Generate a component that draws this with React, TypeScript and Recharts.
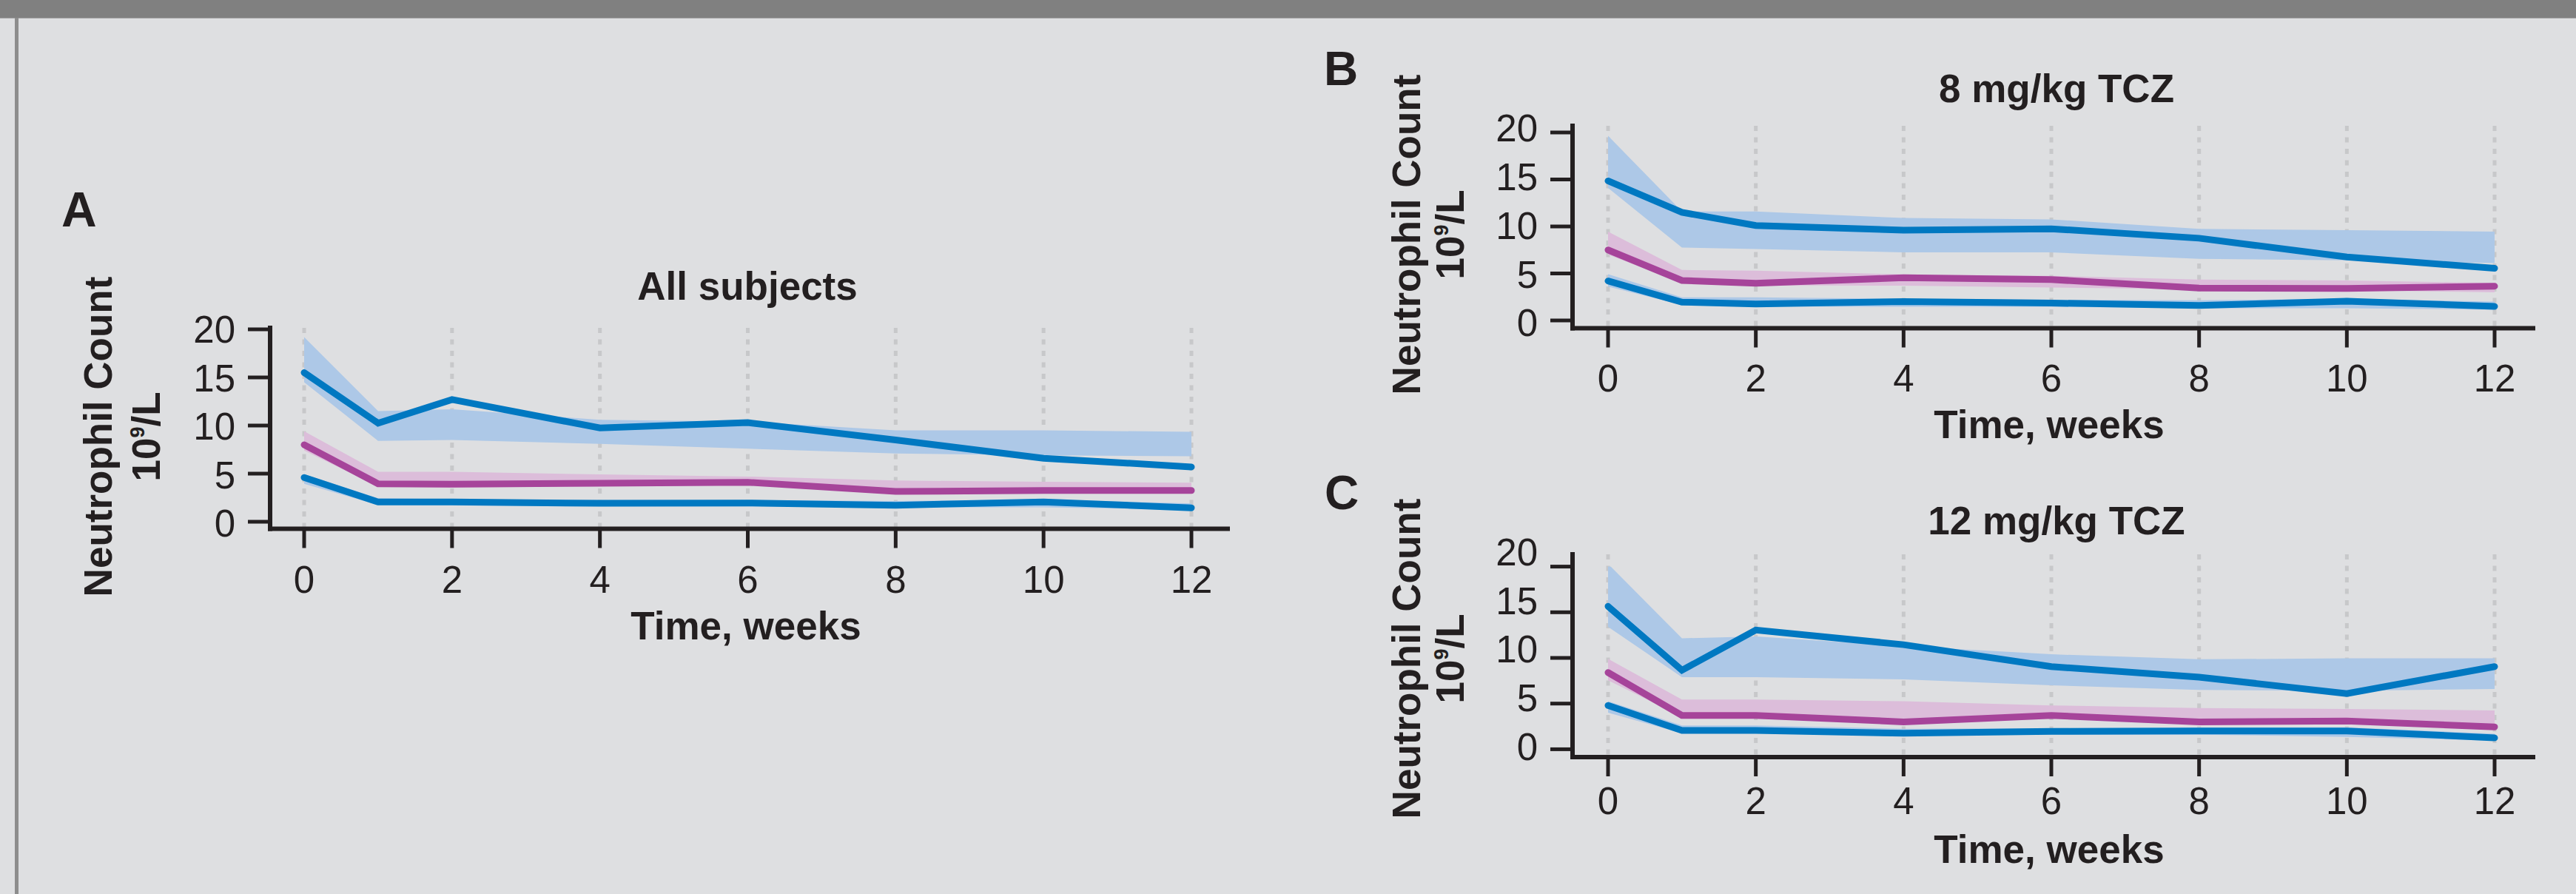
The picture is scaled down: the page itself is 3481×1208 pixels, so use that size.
import React from "react";
import { ComposedChart, Area, Line, XAxis, YAxis, CartesianGrid } from "recharts";

const weeks = [0, 1, 2, 4, 6, 8, 10, 12];
const xTicks = [0, 2, 4, 6, 8, 10, 12];
const yTicks = [0, 5, 10, 15, 20];

const panelLetters = ["A", "B", "C"];
const panelTitles = ["All subjects", "8 mg/kg TCZ", "12 mg/kg TCZ"];
const xLabel = "Time, weeks";
const yLabel = "Neutrophil Count";

// A: all subjects
const aUpper = [15.5, 10.25, 12.7, 9.75, 10.3, 8.5, 6.6, 5.7];
const aUpperLo = [14.5, 8.4, 8.5, 8.1, 7.6, 7.1, 6.9, 6.8];
const aUpperHi = [19.2, 11.5, 11.7, 10.6, 10.4, 9.5, 9.5, 9.35];
const aMid = [8.0, 3.95, 3.9, 4.0, 4.1, 3.15, 3.25, 3.25];
const aMidLo = [7.4, 3.67, 3.54, 3.7, 3.83, 3.03, 3.03, 3.03];
const aMidHi = [9.4, 5.2, 5.2, 4.92, 4.7, 4.28, 4.15, 4.05];
const aLow = [4.6, 2.05, 2.05, 1.92, 1.95, 1.72, 2.05, 1.45];
const aLowLo = [3.95, 1.75, 1.7, 1.6, 1.6, 1.5, 1.5, 1.28];
const aLowHi = [4.95, 2.44, 2.35, 2.25, 2.25, 2.15, 2.3, 1.9];

// B: 8 mg/kg
const bUpper = [14.85, 11.5, 10.1, 9.6, 9.75, 8.75, 6.75, 5.55];
const bUpperLo = [14.1, 7.75, 7.6, 7.25, 7.25, 6.55, 6.4, 6.1];
const bUpperHi = [19.65, 11.6, 11.6, 10.9, 10.75, 9.75, 9.6, 9.45];
const bMid = [7.5, 4.25, 3.95, 4.55, 4.35, 3.45, 3.4, 3.65];
const bMidLo = [7.0, 4.0, 3.75, 3.7, 3.5, 3.3, 3.2, 3.0];
const bMidHi = [9.45, 5.37, 5.3, 4.9, 4.75, 4.35, 4.25, 4.0];
const bLow = [4.2, 1.95, 1.75, 2.0, 1.85, 1.6, 2.05, 1.5];
const bLowLo = [3.6, 1.65, 1.5, 1.45, 1.45, 1.3, 1.3, 1.15];
const bLowHi = [4.92, 2.47, 2.47, 2.3, 2.2, 2.15, 2.3, 2.0];

// C: 12 mg/kg
const cUpper = [15.65, 8.65, 13.05, 11.45, 9.05, 7.9, 6.1, 9.05];
const cUpperLo = [13.4, 7.9, 7.9, 7.65, 7.0, 6.5, 6.4, 6.6];
const cUpperHi = [20.3, 12.15, 12.35, 11.3, 10.4, 9.85, 9.95, 9.95];
const cMid = [8.4, 3.7, 3.7, 3.0, 3.7, 3.0, 3.1, 2.45];
const cMidLo = [7.55, 3.55, 3.4, 2.9, 3.5, 2.9, 2.9, 2.3];
const cMidHi = [9.9, 5.45, 5.45, 5.25, 4.8, 4.5, 4.4, 4.25];
const cLow = [4.8, 2.05, 2.05, 1.75, 1.95, 2.0, 2.0, 1.25];
const cLowLo = [4.0, 1.75, 1.75, 1.55, 1.6, 1.6, 1.35, 0.95];
const cLowHi = [5.25, 2.6, 2.6, 2.25, 2.3, 2.4, 2.4, 1.7];

const INK = "#231f20";
const BLUE = "#0078c1";
const BLUE_BAND = "#adc8e7";
const PURPLE = "#a6449a";
const PINK_BAND = "#dcbdda";
const GRID = "#c7c8ca";
const BG = "#dedfe1";
const FONT = "'Liberation Sans', Arial, Helvetica, sans-serif";
const XH = 100;

const buildRows = (
  upper: number[], upperLo: number[], upperHi: number[],
  mid: number[], midLo: number[], midHi: number[],
  low: number[], lowLo: number[], lowHi: number[]
) =>
  weeks.map((week, i) => ({
    week,
    upper: upper[i],
    upperBand: [upperLo[i], upperHi[i]],
    mid: mid[i],
    midBand: [midLo[i], midHi[i]],
    low: low[i],
    lowBand: [lowLo[i], lowHi[i]],
  }));

const rowsA = buildRows(aUpper, aUpperLo, aUpperHi, aMid, aMidLo, aMidHi, aLow, aLowLo, aLowHi);
const rowsB = buildRows(bUpper, bUpperLo, bUpperHi, bMid, bMidLo, bMidHi, bLow, bLowLo, bLowHi);
const rowsC = buildRows(cUpper, cUpperLo, cUpperHi, cMid, cMidLo, cMidHi, cLow, cLowLo, cLowHi);

const XTick = (props: any) => {
  const { x, y, payload, drop, size } = props;
  return (
    <text x={x} y={y - size + drop} textAnchor="middle" fontSize={51} fontFamily={FONT} fill={INK}>
      {payload.value}
    </text>
  );
};

const YTick = (props: any) => {
  const { x, y, payload, s0, s20 } = props;
  const shift = s0 + ((s20 - s0) * payload.value) / 20;
  return (
    <text x={x} y={y + shift} dy="0.36em" textAnchor="end" fontSize={51} fontFamily={FONT} fill={INK}>
      {payload.value}
    </text>
  );
};

type Box = { x: number; y: number; w: number; h: number };
type Plot = { l: number; t: number; r: number; b: number };

function Panel(props: {
  box: Box; plot: Plot; rows: any[];
  xPad: number[]; yPad: number[]; yShift: number[]; xDrop: number;
}) {
  const { box, plot, rows, xPad, yPad, yShift, xDrop } = props;
  const margin = {
    top: plot.t - box.y,
    left: 0,
    right: box.x + box.w - plot.r,
    bottom: box.y + box.h - plot.b - XH,
  };
  const tickSizeX = 26;
  return (
    <div style={{ position: "absolute", left: box.x, top: box.y }}>
      <ComposedChart width={box.w} height={box.h} data={rows} margin={margin}>
        <CartesianGrid horizontal={false} syncWithTicks stroke={GRID} strokeWidth={5} strokeDasharray="7 8.5" />
        <XAxis
          dataKey="week"
          type="number"
          domain={[0, 12]}
          ticks={xTicks}
          interval={0}
          height={XH}
          padding={{ left: xPad[0], right: xPad[1] }}
          axisLine={{ stroke: INK, strokeWidth: 6, strokeLinecap: "square" }}
          tickLine={{ stroke: INK, strokeWidth: 5 }}
          tickSize={tickSizeX}
          tickMargin={0}
          tick={(p: any) => <XTick {...p} drop={xDrop} size={tickSizeX} />}
        />
        <YAxis
          type="number"
          domain={[0, 20]}
          allowDataOverflow
          ticks={yTicks}
          interval={0}
          width={plot.l - box.x}
          padding={{ top: yPad[0], bottom: yPad[1] }}
          axisLine={{ stroke: INK, strokeWidth: 6, strokeLinecap: "square" }}
          tickLine={{ stroke: INK, strokeWidth: 5 }}
          tickSize={30}
          tickMargin={17}
          tick={(p: any) => <YTick {...p} s0={yShift[0]} s20={yShift[1]} />}
        />
        <Area type="linear" dataKey="upperBand" stroke="none" fill={BLUE_BAND} fillOpacity={1} dot={false} activeDot={false} isAnimationActive={false} />
        <Area type="linear" dataKey="midBand" stroke="none" fill={PINK_BAND} fillOpacity={1} dot={false} activeDot={false} isAnimationActive={false} />
        <Area type="linear" dataKey="lowBand" stroke="none" fill={BLUE_BAND} fillOpacity={1} dot={false} activeDot={false} isAnimationActive={false} />
        <Line type="linear" dataKey="upper" stroke={BLUE} strokeWidth={9} strokeLinecap="round" dot={false} activeDot={false} isAnimationActive={false} />
        <Line type="linear" dataKey="mid" stroke={PURPLE} strokeWidth={9} strokeLinecap="round" dot={false} activeDot={false} isAnimationActive={false} />
        <Line type="linear" dataKey="low" stroke={BLUE} strokeWidth={9} strokeLinecap="round" dot={false} activeDot={false} isAnimationActive={false} />
      </ComposedChart>
    </div>
  );
}

const YTitle = ({ x1, x2, cy }: { x1: number; x2: number; cy: number }) => (
  <>
    <text transform={`translate(${x1},${cy}) rotate(-90)`} textAnchor="middle" fontSize={53} fontWeight="bold">
      {yLabel}
    </text>
    <text transform={`translate(${x2},${cy}) rotate(-90)`} textAnchor="middle" fontSize={53} fontWeight="bold">
      10<tspan fontSize={27} dy={-21}>9</tspan>
      <tspan dy={21}>/L</tspan>
    </text>
  </>
);

export default function App() {
  return (
    <div style={{ position: "absolute", left: 0, top: 0, width: 3481, height: 1208, background: BG, overflow: "hidden" }}>
      <div style={{ position: "absolute", left: 0, top: 0, width: 3481, height: 24, background: "#808080" }} />
      <div style={{ position: "absolute", left: 0, top: 24, width: 3481, height: 1, background: "#a3a3a5" }} />
      <div style={{ position: "absolute", left: 20, top: 24, width: 5, height: 1184, background: "#8d8d8d" }} />

      <Panel
        box={{ x: 0, y: 360, w: 1740, h: 490 }}
        plot={{ l: 365, t: 443, r: 1659, b: 714.5 }}
        rows={rowsA}
        xPad={[46, 49]}
        yPad={[2, 9.5]}
        yShift={[2, 0]}
        xDrop={86}
      />
      <Panel
        box={{ x: 1760, y: 100, w: 1721, h: 470 }}
        plot={{ l: 2125, t: 170, r: 3423, b: 443.5 }}
        rows={rowsB}
        xPad={[48, 52]}
        yPad={[9, 10.5]}
        yShift={[3, -6]}
        xDrop={85}
      />
      <Panel
        box={{ x: 1760, y: 680, w: 1721, h: 460 }}
        plot={{ l: 2125, t: 749, r: 3423, b: 1023 }}
        rows={rowsC}
        xPad={[48, 52]}
        yPad={[16.6, 10.6]}
        yShift={[-4, -20]}
        xDrop={77}
      />

      <svg width={3481} height={1208} style={{ position: "absolute", left: 0, top: 0, pointerEvents: "none" }} fontFamily={FONT} fill={INK}>
        <text x={83} y={306} fontSize={66} fontWeight="bold">{panelLetters[0]}</text>
        <text x={1789} y={115} fontSize={64} fontWeight="bold">{panelLetters[1]}</text>
        <text x={1790} y={688} fontSize={64} fontWeight="bold">{panelLetters[2]}</text>

        <text x={1010} y={405} textAnchor="middle" fontSize={53} fontWeight="bold">{panelTitles[0]}</text>
        <text x={2779} y={138} textAnchor="middle" fontSize={53} fontWeight="bold">{panelTitles[1]}</text>
        <text x={2779} y={722} textAnchor="middle" fontSize={53} fontWeight="bold">{panelTitles[2]}</text>

        <text x={1008} y={864} textAnchor="middle" fontSize={53} fontWeight="bold">{xLabel}</text>
        <text x={2769} y={592} textAnchor="middle" fontSize={53} fontWeight="bold">{xLabel}</text>
        <text x={2769} y={1166} textAnchor="middle" fontSize={53} fontWeight="bold">{xLabel}</text>

        <YTitle x1={151} x2={216} cy={590} />
        <YTitle x1={1919} x2={1978} cy={317} />
        <YTitle x1={1919} x2={1978} cy={890} />
      </svg>
    </div>
  );
}
